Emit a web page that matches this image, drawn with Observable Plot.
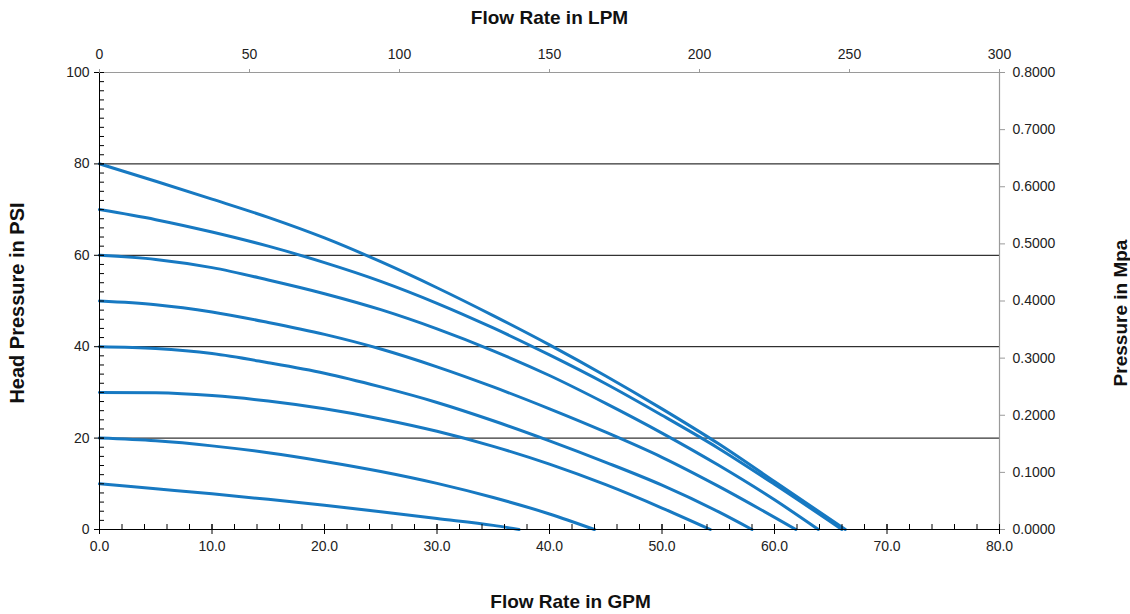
<!DOCTYPE html>
<html>
<head>
<meta charset="utf-8">
<script src="https://cdn.jsdelivr.net/npm/d3@7"></script>
<script src="https://cdn.jsdelivr.net/npm/@observablehq/plot@0.6"></script>
<style>
  html, body { margin: 0; padding: 0; background: #fff; }
  #chart svg { display: block; }
</style>
</head>
<body>
<div id="chart"></div>
<script>
// ---- axis ticks ----
const gpmTicks = [0, 10, 20, 30, 40, 50, 60, 70, 80];
const gpmMinor = d3.range(0, 81, 2);
const psiTicks = [0, 20, 40, 60, 80, 100];
const psiMinor = d3.range(0, 101, 2);
const psiGrid = [20, 40, 60, 80];
const lpmTicks = [0, 50, 100, 150, 200, 250, 300];
const mpaTicks = [0, 0.1, 0.2, 0.3, 0.4, 0.5, 0.6, 0.7, 0.8];
const LPM_PER_GPM = 3.75;   // 300 LPM at 80 GPM
const MPA_PER_PSI = 0.008;  // 0.8 MPa at 100 PSI

// ---- pump curves: [GPM, PSI] ----
const curve10 = [[0,10],[5,8.9],[10,7.8],[15,6.6],[20,5.3],[25,3.9],[30,2.4],[35,0.9],[37.3,0]];
const curve20 = [[0,20],[5,19.4],[10,18.3],[15,16.8],[20,14.9],[25,12.7],[30,10.1],[35,7.0],[40,3.4],[44,0]];
const curve30 = [[0,30],[5,29.9],[10,29.3],[15,28.1],[20,26.4],[25,24.2],[30,21.5],[35,18.2],[40,14.3],[45,9.8],[50,4.7],[54.3,0]];
const curve40 = [[0,40],[5,39.6],[10,38.5],[15,36.5],[20,34.2],[25,31.2],[30,27.8],[35,23.8],[40,19.4],[45,14.7],[50,9.7],[55,3.9],[58,0]];
const curve50 = [[0,50],[5,49.2],[10,47.6],[15,45.3],[20,42.7],[25,39.5],[30,35.6],[35,31.2],[40,26.4],[45,21.3],[50,15.8],[55,9.5],[61.9,0]];
const curve60 = [[0,60],[5,59.1],[10,57.3],[15,54.6],[20,51.6],[25,48.1],[30,43.9],[35,39.1],[40,33.7],[45,27.6],[50,21.1],[55,14.1],[60,6.5],[63.9,0]];
const curve70 = [[0,70],[5,67.8],[10,65.1],[15,62.0],[20,58.4],[25,54.3],[30,49.5],[35,44.1],[40,38.2],[45,31.9],[50,25.0],[55,17.8],[60,9.9],[66.0,0]];
const curve80 = [[0,80],[5,76.2],[10,72.3],[15,68.3],[20,63.8],[25,58.6],[30,52.9],[35,46.8],[40,40.4],[45,33.6],[50,26.4],[55,18.8],[60,10.5],[66.3,0]];

const curves = {curve10, curve20, curve30, curve40, curve50, curve60, curve70, curve80};
const table = Object.entries(curves).flatMap(([name, pts]) =>
  pts.map(([gpm, psi]) => ({series: name, gpm, psi})));

const blank = () => "";
const font = "'Liberation Sans', Arial, sans-serif";
const titleStyle = {text: d => d, fontWeight: "bold", fontSize: 19, fill: "#111", textAnchor: "middle", lineAnchor: "middle"};

const chart = Plot.plot({
  width: 1130,
  height: 614,
  marginLeft: 99,
  marginRight: 131,
  marginTop: 72,
  marginBottom: 85,
  style: {fontFamily: font, fontSize: "14px", background: "#fff", color: "#222"},
  x: {domain: [0, 80]},
  y: {domain: [0, 100]},
  marks: [
    // grid
    Plot.ruleY(psiGrid, {stroke: "#000", strokeWidth: 1}),
    // frame lines
    Plot.ruleY([100], {stroke: "#9a9a9a", strokeWidth: 1.2}),
    Plot.ruleX([80], {stroke: "#9a9a9a", strokeWidth: 1.2}),
    // curves
    Plot.line(table, {x: "gpm", y: "psi", z: "series", stroke: "#1779c2", strokeWidth: 3, curve: "monotone-x"}),
    Plot.ruleY([0], {stroke: "#000", strokeWidth: 1}),
    Plot.ruleX([0], {stroke: "#000", strokeWidth: 1}),

    // bottom axis (GPM)
    Plot.axisX({ticks: gpmMinor, tickSize: 5, dy: -5, tickFormat: blank, label: null, stroke: "#000"}),
    Plot.axisX({ticks: gpmTicks, tickSize: 10, dy: -5, tickFormat: blank, label: null, stroke: "#000"}),
    Plot.axisX({ticks: gpmTicks, tickSize: 0, tickPadding: 12, tickFormat: d3.format(".1f"), label: null, fill: "#222"}),

    // left axis (PSI)
    Plot.axisY({ticks: psiMinor, tickSize: 5, dx: 5, tickFormat: blank, label: null, stroke: "#000"}),
    Plot.axisY({ticks: psiTicks, tickSize: 10, dx: 5, tickFormat: blank, label: null, stroke: "#000"}),
    Plot.axisY({ticks: psiTicks, tickSize: 0, tickPadding: 10, label: null, fill: "#222"}),

    // top axis (LPM)
    Plot.axisX({anchor: "top", ticks: lpmTicks.map(v => v / LPM_PER_GPM), tickSize: 4,
      tickPadding: 10, tickFormat: v => String(Math.round(v * LPM_PER_GPM)), label: null,
      stroke: "#9a9a9a", fill: "#222"}),

    // right axis (MPa)
    Plot.axisY({anchor: "right", ticks: mpaTicks.map(v => v / MPA_PER_PSI), tickSize: 5,
      tickPadding: 8, tickFormat: v => (v * MPA_PER_PSI).toFixed(4), label: null,
      stroke: "#9a9a9a", fill: "#222"}),

    // axis titles
    Plot.text(["Flow Rate in LPM"], {...titleStyle, frameAnchor: "top", dy: -55}),
    Plot.text(["Flow Rate in GPM"], {...titleStyle, frameAnchor: "bottom", dy: 72, dx: 21}),
    Plot.text(["Head Pressure in PSI"], {...titleStyle, frameAnchor: "left", dx: -82, dy: 2, rotate: -90, fontSize: 20}),
    Plot.text(["Pressure in Mpa"], {...titleStyle, frameAnchor: "right", dx: 121, dy: 12, rotate: -90})
  ]
});
document.getElementById("chart").appendChild(chart);
</script>
</body>
</html>
